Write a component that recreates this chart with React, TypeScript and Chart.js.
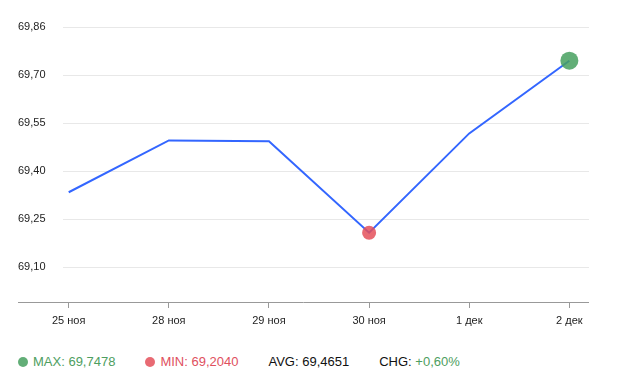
import React, { useEffect, useRef } from "react";
import { Chart, registerables } from "chart.js";

Chart.register(...registerables);

const CATEGORIES = ["25 ноя", "28 ноя", "29 ноя", "30 ноя", "1 дек", "2 дек"];
const VALUES = [69.332, 69.4958, 69.493, 69.204, 69.518, 69.7478];
const Y_TICK_LABELS = ["69,10", "69,25", "69,40", "69,55", "69,70", "69,86"];
const Y_FIRST_TICK = 69.0956;
const Y_TICK_STEP = 0.15176;
const Y_MIN = 68.985;
const X_MIN = -0.057;
const X_MAX = 5.196;

const FONT = "'Liberation Sans', Arial, sans-serif";
const LINE_COLOR = "#3366ff";
const GREEN = "rgba(70,160,95,0.85)";
const RED = "rgba(228,80,90,0.85)";
const GREEN_TEXT = "#4e9e60";
const RED_TEXT = "#e0505e";

const fmt = (v: number, d: number) => v.toFixed(d).replace(".", ",");

const maxVal = Math.max(...VALUES);
const minVal = Math.min(...VALUES);
const maxIdx = VALUES.indexOf(maxVal);
const minIdx = VALUES.indexOf(minVal);
const avgVal = VALUES.reduce((a, b) => a + b, 0) / VALUES.length;
const chgVal = (VALUES[VALUES.length - 1] / VALUES[0] - 1) * 100;

const axisLinePlugin = {
  id: "axisLine",
  afterDraw(chart: any) {
    const { ctx, chartArea } = chart;
    const yScale = chart.scales.y;
    ctx.save();
    ctx.strokeStyle = "#999999";
    ctx.lineWidth = 1;
    ctx.beginPath();
    const y = Math.round(chartArea.bottom) + 0.5;
    ctx.moveTo(yScale.left, y);
    ctx.lineTo(chartArea.right, y);
    ctx.stroke();
    ctx.restore();
  },
};

export default function App() {
  const ref = useRef<HTMLCanvasElement>(null);
  useEffect(() => {
    if (!ref.current) return;
    const chart = new Chart(ref.current, {
      type: "line",
      data: {
        datasets: [
          {
            data: VALUES.map((v, i) => ({ x: i, y: v })),
            borderColor: LINE_COLOR,
            borderWidth: 2,
            tension: 0,
            fill: false,
            pointRadius: (c: any) => (c.dataIndex === maxIdx ? 9 : c.dataIndex === minIdx ? 7 : 0),
            pointHoverRadius: 0,
            pointBorderWidth: 0,
            pointBackgroundColor: (c: any) => (c.dataIndex === maxIdx ? GREEN : RED),
            pointBorderColor: "rgba(0,0,0,0)",
          },
        ],
      },
      plugins: [axisLinePlugin],
      options: {
        animation: false,
        responsive: false,
        maintainAspectRatio: false,
        layout: { padding: { left: 10, right: 45, top: 19, bottom: 0 } },
        plugins: { legend: { display: false }, tooltip: { enabled: false } },
        scales: {
          x: {
            type: "linear",
            min: X_MIN,
            max: X_MAX,
            afterBuildTicks: (s: any) => {
              s.ticks = CATEGORIES.map((_, i) => ({ value: i }));
            },
            afterFit: (s: any) => {
              s.height = 26;
            },
            border: { display: false },
            grid: {
              drawOnChartArea: false,
              drawTicks: true,
              tickLength: 6,
              color: "#999999",
            },
            ticks: {
              padding: 6,
              color: "#222222",
              font: { family: FONT, size: 11 },
              maxRotation: 0,
              autoSkip: false,
              callback: (v: any) => CATEGORIES[Math.round(Number(v))] ?? "",
            },
          },
          y: {
            min: Y_MIN,
            max: Y_FIRST_TICK + Y_TICK_STEP * (Y_TICK_LABELS.length - 1),
            afterBuildTicks: (s: any) => {
              s.ticks = Y_TICK_LABELS.map((_, i) => ({ value: Y_FIRST_TICK + i * Y_TICK_STEP }));
            },
            afterFit: (s: any) => {
              s.width = 45;
            },
            border: { display: false },
            grid: { color: "#e8e8e8", drawTicks: false },
            ticks: {
              crossAlign: "far",
              padding: 0,
              color: "#222222",
              font: { family: FONT, size: 11 },
              callback: (_v: any, i: number) => Y_TICK_LABELS[i],
            },
          },
        },
      } as any,
    });
    return () => chart.destroy();
  }, []);

  const item: React.CSSProperties = { display: "flex", alignItems: "center", marginRight: 30 };
  const dot = (c: string): React.CSSProperties => ({
    width: 10,
    height: 10,
    borderRadius: "50%",
    background: c,
    marginRight: 5,
  });

  return (
    <div style={{ position: "relative", width: 626, height: 376, fontFamily: FONT }}>
      <canvas ref={ref} width={626} height={320} style={{ display: "block", width: 626, height: 320 }} />
      <div
        style={{
          position: "absolute",
          left: 10,
          top: 346,
          display: "flex",
          alignItems: "center",
          fontSize: 13,
          lineHeight: "16px",
          whiteSpace: "nowrap",
        }}
      >
        <div style={item}>
          <span style={dot(GREEN)} />
          <span style={{ color: GREEN_TEXT }}>MAX: {fmt(maxVal, 4)}</span>
        </div>
        <div style={item}>
          <span style={dot(RED)} />
          <span style={{ color: RED_TEXT }}>MIN: {fmt(minVal, 4)}</span>
        </div>
        <div style={item}>
          <span style={{ color: "#111" }}>AVG: {fmt(avgVal, 4)}</span>
        </div>
        <div style={item}>
          <span style={{ color: "#111" }}>CHG:&nbsp;</span>
          <span style={{ color: GREEN_TEXT }}>
            {chgVal >= 0 ? "+" : ""}
            {fmt(chgVal, 2)}%
          </span>
        </div>
      </div>
    </div>
  );
}
